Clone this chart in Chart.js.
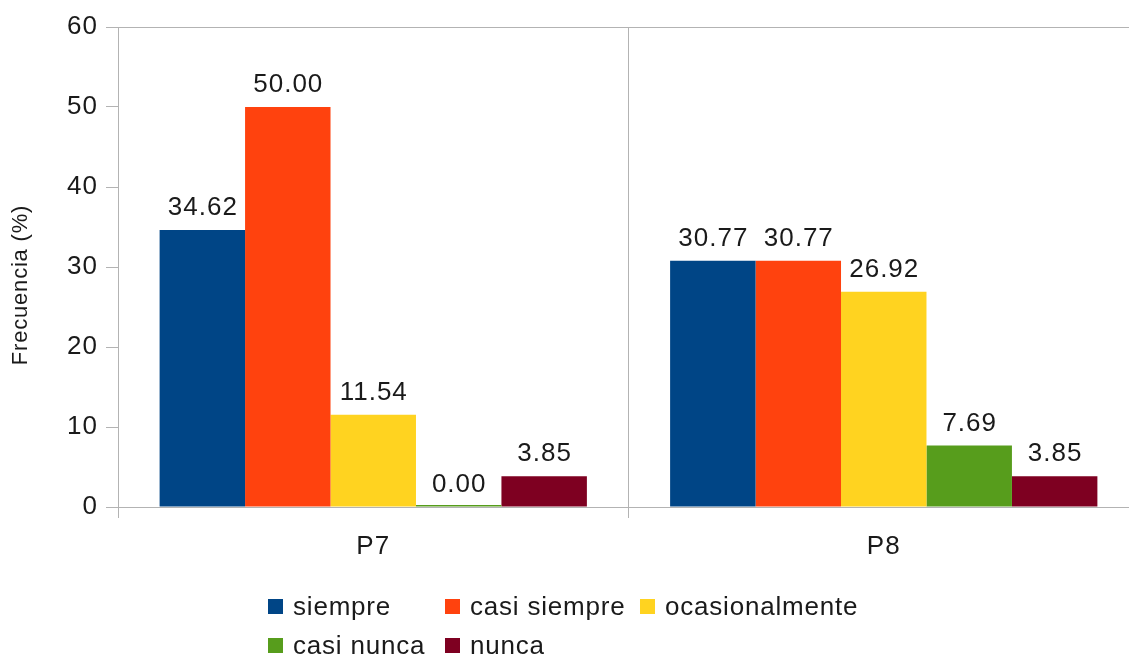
<!DOCTYPE html>
<html>
<head>
<meta charset="utf-8">
<script src="https://cdn.jsdelivr.net/npm/chart.js@4"></script>
<style>
  html, body { margin: 0; padding: 0; background: #fff; }
  body { width: 1129px; height: 656px; overflow: hidden; position: relative; font-family: "Liberation Sans", Arial, sans-serif; }
  #wrap { position: absolute; left: 0; top: 0; width: 1139px; height: 656px; }
  #legend { position: absolute; left: 268px; top: 590px; display: grid;
            grid-template-columns: 177px 195px auto; row-gap: 7px; }
  .item { display: flex; align-items: center; font-size: 26px; letter-spacing: 0.8px; color: #1a1a1a; height: 32px; white-space: nowrap; }
  .box { width: 15px; height: 15px; margin-right: 10px; }
</style>
</head>
<body>
<div id="wrap"><canvas id="chart" width="1139" height="656"></canvas></div>
<div id="legend"></div>
<script>
(() => {
  'use strict';

  // ── Data ────────────────────────────────────────────────────────────────────

  const CATEGORIES = ['P7', 'P8'];
  const SERIES = ['siempre', 'casi siempre', 'ocasionalmente', 'casi nunca', 'nunca'];
  const SIEMPRE        = [34.62, 30.77];
  const CASI_SIEMPRE   = [50.00, 30.77];
  const OCASIONALMENTE = [11.54, 26.92];
  const CASI_NUNCA     = [0.00, 7.69];
  const NUNCA          = [3.85, 3.85];
  const Y_TICKS = [0, 10, 20, 30, 40, 50, 60];
  const Y_TITLE = 'Frecuencia (%)';

  const VALUES = [SIEMPRE, CASI_SIEMPRE, OCASIONALMENTE, CASI_NUNCA, NUNCA];
  const COLORS = ['#004586', '#ff420e', '#ffd320', '#579d1c', '#7e0021'];
  const GRID = '#b3b3b3';
  const TEXT = '#1a1a1a';
  const FONT = '"Liberation Sans", Arial, sans-serif';

  // ── Plugins: letter spacing, value labels, axis title ───────────────────────

  const spacing = {
    id: 'spacing',
    beforeDraw(chart) { chart.ctx.letterSpacing = '1px'; },
  };

  const valueLabels = {
    id: 'valueLabels',
    afterDatasetsDraw(chart) {
      const ctx = chart.ctx;
      ctx.save();
      ctx.font = `26px ${FONT}`;
      ctx.fillStyle = TEXT;
      ctx.textAlign = 'center';
      ctx.textBaseline = 'bottom';
      chart.data.datasets.forEach((ds, i) => {
        chart.getDatasetMeta(i).data.forEach((bar, j) => {
          const y = chart.scales.y.getPixelForValue(ds.data[j]);
          ctx.fillText(ds.data[j].toFixed(2), bar.x + 0.5, y - 9);
        });
      });
      ctx.restore();
    },
  };

  // y title sits a bit below the plot's middle, as in the original
  const yTitle = {
    id: 'yTitle',
    afterDraw(chart) {
      const ctx = chart.ctx;
      ctx.save();
      ctx.translate(21, 285);
      ctx.rotate(-Math.PI / 2);
      ctx.font = `22px ${FONT}`;
      ctx.letterSpacing = '0.8px';
      ctx.fillStyle = TEXT;
      ctx.textAlign = 'center';
      ctx.textBaseline = 'middle';
      ctx.fillText(Y_TITLE, 0, 0);
      ctx.restore();
    },
  };

  // ── Chart ───────────────────────────────────────────────────────────────────

  new Chart(document.getElementById('chart'), {
    type: 'bar',
    data: {
      labels: CATEGORIES,
      datasets: SERIES.map((name, i) => ({
        label: name,
        data: VALUES[i],
        backgroundColor: COLORS[i],
        borderWidth: 0,
        minBarLength: i === 3 ? 2 : 0,
        categoryPercentage: 0.837,
        barPercentage: 1,
      })),
    },
    options: {
      responsive: false,
      animation: false,
      layout: { padding: { top: 27, left: 0, right: 0, bottom: 0 } },
      plugins: { legend: { display: false }, tooltip: { enabled: false } },
      scales: {
        x: {
          afterFit: s => { s.height = 149; },
          grid: { offset: true, color: GRID, lineWidth: 1, tickLength: 11, tickColor: GRID },
          border: { color: GRID },
          ticks: { color: TEXT, font: { family: FONT, size: 26 }, padding: 13 },
        },
        y: {
          min: 0,
          max: 60,
          afterFit: s => { s.width = 118; },
          afterBuildTicks: s => { s.ticks = Y_TICKS.map(v => ({ value: v })); },
          grid: {
            color: c => (c.tick && (c.tick.value === 60 || c.tick.value === 0)) ? GRID : 'rgba(0,0,0,0)',
            tickColor: GRID,
            tickLength: 12,
            lineWidth: 1,
          },
          border: { color: GRID },
          ticks: { color: TEXT, font: { family: FONT, size: 26 }, padding: 8 },
        },
      },
    },
    plugins: [spacing, valueLabels, yTitle],
  });

  // ── HTML legend ─────────────────────────────────────────────────────────────

  document.getElementById('legend').innerHTML = SERIES.map((name, i) =>
    `<div class="item"><span class="box" style="background:${COLORS[i]}"></span>${name}</div>`
  ).join('');
})();
</script>
</body>
</html>
